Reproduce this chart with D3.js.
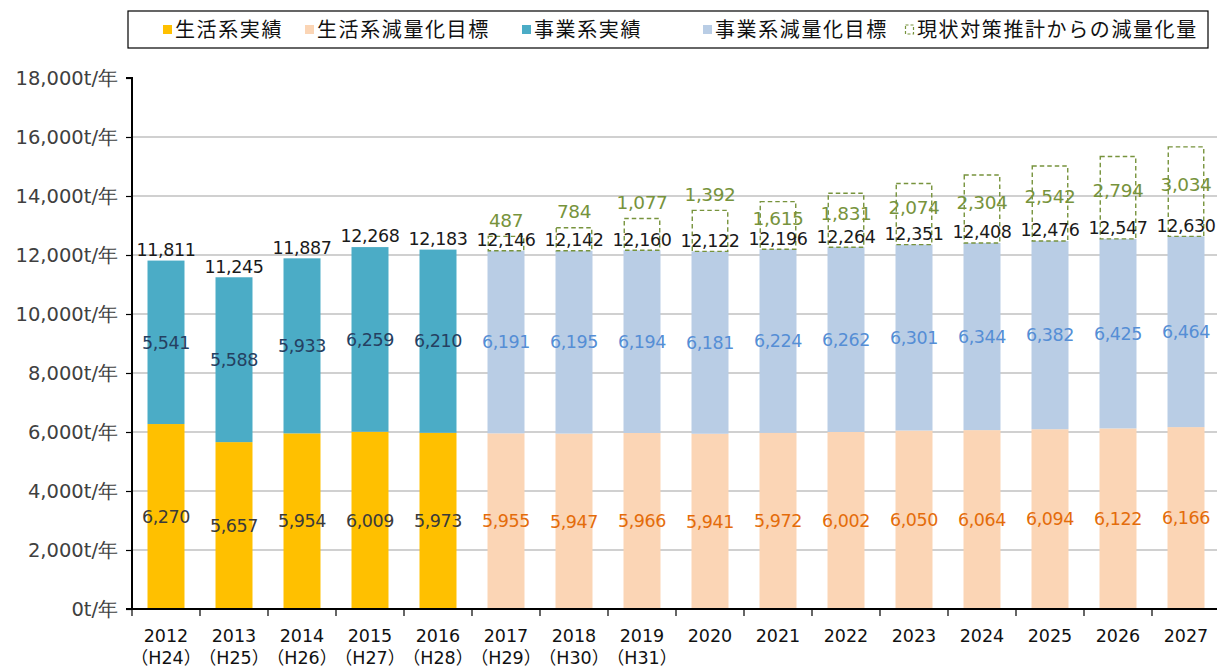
<!DOCTYPE html>
<html><head><meta charset="utf-8">
<script src="https://cdn.jsdelivr.net/npm/d3@7"></script>
<style>
body{margin:0;background:#fff;}
svg{display:block;}
</style></head>
<body>
<svg id="chart" width="1217" height="668"></svg>
<script>
const years = ["2012","2013","2014","2015","2016","2017","2018","2019","2020","2021","2022","2023","2024","2025","2026","2027"];
const eras = ["（H24）","（H25）","（H26）","（H27）","（H28）","（H29）","（H30）","（H31）","","","","","","","",""];
const isActual = [true,true,true,true,true,false,false,false,false,false,false,false,false,false,false,false];
const household = [6270,5657,5954,6009,5973,5955,5947,5966,5941,5972,6002,6050,6064,6094,6122,6166];
const business = [5541,5588,5933,6259,6210,6191,6195,6194,6181,6224,6262,6301,6344,6382,6425,6464];
const totals = [11811,11245,11887,12268,12183,12146,12142,12160,12122,12196,12264,12351,12408,12476,12547,12630];
const reduction = [null,null,null,null,null,487,784,1077,1392,1615,1831,2074,2304,2542,2794,3034];
const yTicks = [0,2000,4000,6000,8000,10000,12000,14000,16000,18000];
const legendItems = ["生活系実績","生活系減量化目標","事業系実績","事業系減量化目標","現状対策推計からの減量化量"];

const C = {
  hhAct:"#FFC000", hhTgt:"#FBD5B5", bzAct:"#4BACC6", bzTgt:"#B9CDE5", green:"#77933C",
  hhActLbl:"#3a3a3a", hhTgtLbl:"#E46C0A", bzActLbl:"#254061", bzTgtLbl:"#558ED5"
};

const svg = d3.select("#chart");
const pLeft = 132, pRight = 1220, pTop = 78, pBottom = 609;

const x = d3.scaleBand().domain(years).range([pLeft, pRight]).paddingInner(0.456).paddingOuter(0.228);
const y = d3.scaleLinear().domain([0, 18000]).range([pBottom, pTop]);
const step = x.step();

// gridlines
svg.append("g").selectAll("line").data(yTicks.filter(t => t > 0 && t < 18000)).join("line")
  .attr("x1", pLeft).attr("x2", pRight).attr("y1", d => y(d)).attr("y2", d => y(d))
  .attr("stroke", "#C0C0C0").attr("stroke-width", 1.5);

// bars
const data = years.map((yr, i) => ({yr, i, hh: household[i], bz: business[i], tot: totals[i], red: reduction[i], act: isActual[i]}));
const g = svg.append("g");
g.selectAll("rect.hh").data(data).join("rect").attr("class","hh")
  .attr("x", d => x(d.yr)).attr("width", x.bandwidth())
  .attr("y", d => y(d.hh)).attr("height", d => y(0) - y(d.hh))
  .attr("fill", d => d.act ? C.hhAct : C.hhTgt);
g.selectAll("rect.bz").data(data).join("rect").attr("class","bz")
  .attr("x", d => x(d.yr)).attr("width", x.bandwidth())
  .attr("y", d => y(d.hh + d.bz)).attr("height", d => y(d.hh) - y(d.hh + d.bz))
  .attr("fill", d => d.act ? C.bzAct : C.bzTgt);
g.selectAll("rect.red").data(data.filter(d => d.red != null)).join("rect").attr("class","red")
  .attr("x", d => x(d.yr) + 0.75).attr("width", x.bandwidth() - 1.5)
  .attr("y", d => y(d.tot + d.red)).attr("height", d => y(d.tot) - y(d.tot + d.red))
  .attr("fill", "none").attr("stroke", C.green).attr("stroke-width", 1.4).attr("stroke-dasharray", "4.5,3");

// axes
const yAxis = d3.axisLeft(y).tickValues(yTicks).tickSize(6).tickPadding(8)
  .tickFormat(d => d3.format(",")(d) + "t/年");
const ya = svg.append("g").attr("transform", `translate(${pLeft},0)`).call(yAxis);
ya.select(".domain").attr("stroke", "#000").attr("stroke-width", 2).attr("d", `M-6,${pTop}H0V${pBottom}H-6`);
ya.selectAll(".tick line").attr("stroke", "#000").attr("stroke-width", 1.2);
ya.selectAll(".tick text").attr("fill", "#404040").style("font-family", "DejaVu Sans, sans-serif").style("font-size", "19.5px");

// x axis line and ticks
svg.append("line").attr("x1", pLeft).attr("x2", pRight).attr("y1", pBottom).attr("y2", pBottom)
  .attr("stroke", "#000").attr("stroke-width", 2);
const bounds = years.map(yr => x(yr) - x.paddingInner() * step / 2);
svg.append("g").selectAll("line").data(bounds).join("line")
  .attr("x1", d => d).attr("x2", d => d).attr("y1", pBottom).attr("y2", pBottom + 7)
  .attr("stroke", "#000").attr("stroke-width", 1.2);
const xl = svg.append("g").selectAll("text").data(data).join("text")
  .attr("x", d => x(d.yr) + x.bandwidth() / 2).attr("text-anchor", "middle")
  .style("font-family", "DejaVu Sans, 'Noto Sans CJK JP', sans-serif").style("font-size", "17.5px").attr("fill", "#111");
xl.append("tspan").attr("x", d => x(d.yr) + x.bandwidth() / 2).attr("y", 642).text(d => d.yr);
xl.append("tspan").attr("x", d => x(d.yr) + x.bandwidth() / 2).attr("y", 664).text(d => eras[d.i]);

// value labels
const lblFont = "DejaVu Sans, sans-serif";
function lbl(sel) {
  return sel.attr("text-anchor", "middle").attr("dy", "0.36em")
    .style("font-family", lblFont).style("font-size", "17.5px").style("letter-spacing", "-0.4px");
}
const cx = d => x(d.yr) + x.bandwidth() / 2;
lbl(svg.append("g").selectAll("text").data(data).join("text"))
  .attr("x", cx).attr("y", d => (y(0) + y(d.hh)) / 2)
  .attr("fill", d => d.act ? C.hhActLbl : C.hhTgtLbl).text(d => d3.format(",")(d.hh));
lbl(svg.append("g").selectAll("text").data(data).join("text"))
  .attr("x", cx).attr("y", d => (y(d.hh) + y(d.hh + d.bz)) / 2)
  .attr("fill", d => d.act ? C.bzActLbl : C.bzTgtLbl).text(d => d3.format(",")(d.bz));
lbl(svg.append("g").selectAll("text").data(data).join("text"))
  .attr("x", cx).attr("y", d => y(d.tot) - 11)
  .attr("fill", "#1a1a1a").text(d => d3.format(",")(d.tot));
lbl(svg.append("g").selectAll("text").data(data.filter(d => d.red != null)).join("text"))
  .attr("x", cx).attr("y", d => {
    const t = y(d.tot + d.red), b = y(d.tot);
    return (b - t) < 45 ? t - 16 : (t + b) / 2 - 7;
  })
  .attr("fill", C.green).style("font-size", "18.5px").text(d => d3.format(",")(d.red));

// legend
const lg = svg.append("g");
lg.append("rect").attr("x", 128).attr("y", 11).attr("width", 1080).attr("height", 37)
  .attr("fill", "#fff").attr("stroke", "#000").attr("stroke-width", 1.2);
const legX = [163, 305, 522, 703, 905];
const legFill = [C.hhAct, C.hhTgt, C.bzAct, C.bzTgt, null];
legendItems.forEach((t, i) => {
  if (legFill[i]) {
    lg.append("rect").attr("x", legX[i]).attr("y", 25).attr("width", 9).attr("height", 9).attr("fill", legFill[i]);
  } else {
    lg.append("rect").attr("x", legX[i] + 0.5).attr("y", 25).attr("width", 8).attr("height", 9)
      .attr("fill", "none").attr("stroke", C.green).attr("stroke-width", 1.2).attr("stroke-dasharray", "3,2");
  }
  lg.append("text").attr("x", legX[i] + 12).attr("y", 30).attr("dy", "0.36em")
    .style("font-family", "'Noto Sans CJK JP', sans-serif").style("font-size", "20px").style("letter-spacing", "1.6px")
    .attr("fill", "#111").text(t);
});
</script>
</body></html>
